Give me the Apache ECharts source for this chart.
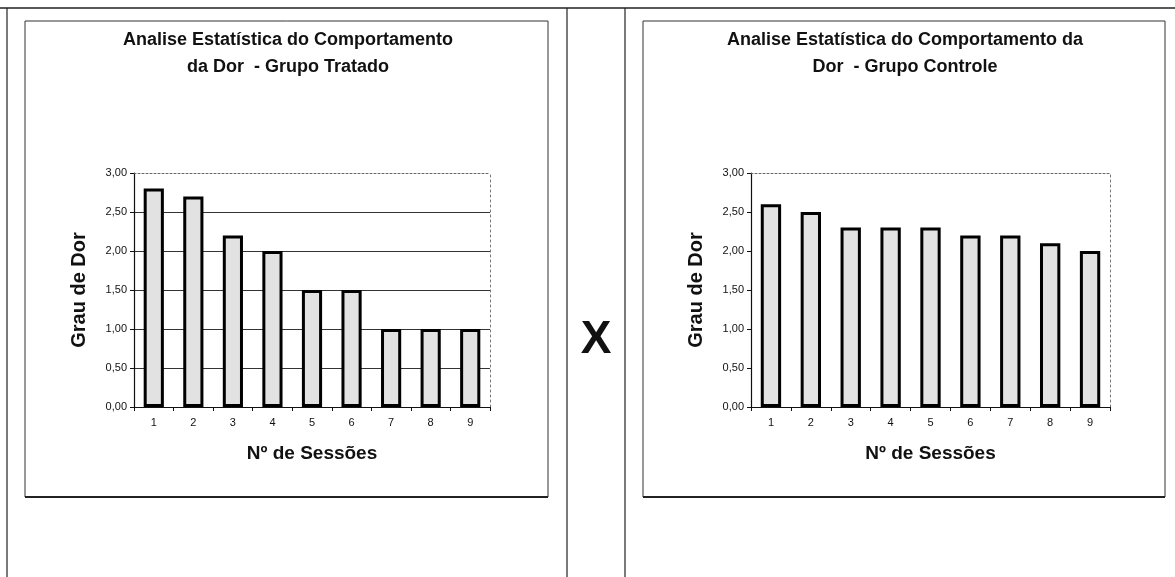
<!DOCTYPE html>
<html>
<head>
<meta charset="utf-8">
<script src="https://cdn.jsdelivr.net/npm/echarts@6/dist/echarts.min.js"></script>
<style>
html,body{margin:0;padding:0;background:#fff;}
#c{width:1175px;height:577px;}
</style>
</head>
<body>
<div id="c"></div>
<script>
const sessions = ['1','2','3','4','5','6','7','8','9'];
const tratado = [2.8, 2.7, 2.2, 2.0, 1.5, 1.5, 1.0, 1.0, 1.0];
const controle = [2.6, 2.5, 2.3, 2.3, 2.3, 2.2, 2.2, 2.1, 2.0];
const titleTratado = ['Analise Estatística do Comportamento', 'da Dor  - Grupo Tratado'];
const titleControle = ['Analise Estatística do Comportamento da', 'Dor  - Grupo Controle'];
const yName = 'Grau de Dor';
const xName = 'Nº de Sessões';

const FONT = '"Liberation Sans", Arial, sans-serif';
const fmt = v => v.toFixed(2).replace('.', ',');

const chart = echarts.init(document.getElementById('c'), null, {renderer: 'canvas'});

function grids() {
  return [
    {left: 134, top: 173, width: 356, height: 234},
    {left: 751, top: 173, width: 359, height: 234}
  ];
}

function catAxis(gi) {
  return {
    type: 'category', gridIndex: gi, data: sessions,
    name: xName, nameLocation: 'middle', nameGap: 37,
    nameTextStyle: {fontFamily: FONT, fontWeight: 'bold', fontSize: 19, color: '#111'},
    axisLine: {lineStyle: {color: '#111', width: 1.2}},
    axisTick: {show: true, length: 4, lineStyle: {color: '#111'}},
    axisLabel: {fontFamily: FONT, fontSize: 11, color: '#111', margin: 10}
  };
}
function topAxis(gi) {
  return {
    type: 'category', gridIndex: gi, position: 'top', data: sessions,
    axisLine: {show: true, onZero: false, lineStyle: {color: '#666', type: [2, 2], width: 1}},
    axisTick: {show: false}, axisLabel: {show: false}
  };
}
function valAxis(gi, grid) {
  return {
    type: 'value', gridIndex: gi, min: 0, max: 3, interval: 0.5,
    name: yName, nameLocation: 'middle', nameGap: 45,
    nameTextStyle: {fontFamily: FONT, fontWeight: 'bold', fontSize: 20, color: '#111'},
    axisLine: {show: true, lineStyle: {color: '#111', width: 1.2}},
    axisTick: {show: true, length: 4, lineStyle: {color: '#111'}},
    axisLabel: {fontFamily: FONT, fontSize: 11, color: '#111', margin: 7, formatter: fmt},
    splitLine: {show: grid, showMaxLine: false, showMinLine: false, lineStyle: {color: '#333', width: 1}}
  };
}
function rightAxis(gi) {
  return {
    type: 'value', gridIndex: gi, position: 'right', min: 0, max: 3, interval: 0.5,
    axisLine: {show: true, onZero: false, lineStyle: {color: '#777', type: [2, 3], width: 1}},
    axisTick: {show: false}, axisLabel: {show: false}, splitLine: {show: false}
  };
}

const barStyle = {color: '#e2e2e2', borderColor: '#000', borderWidth: 3};

const textFont = 'bold 18px ' + FONT;
function txt(x, y, s, font) {
  return {type: 'text', x: x, y: y, z: 10,
    style: {text: s, font: font || textFont, fill: '#111', textAlign: 'center', textVerticalAlign: 'middle'}};
}
function line(x1, y1, x2, y2, w) {
  return {type: 'line', shape: {x1, y1, x2, y2}, style: {stroke: '#222', lineWidth: w || 1}, silent: true};
}
function rect(x, y, w, h) {
  return {type: 'rect', shape: {x, y, width: w, height: h}, style: {fill: null, stroke: '#333', lineWidth: 1}, silent: true};
}

chart.setOption({
  animation: false,
  backgroundColor: '#fff',
  grid: grids(),
  xAxis: [catAxis(0), catAxis(1), topAxis(0), topAxis(1)],
  yAxis: [valAxis(0, true), valAxis(1, false), rightAxis(0), rightAxis(1)],
  series: [
    {type: 'bar', xAxisIndex: 0, yAxisIndex: 0, data: tratado, barWidth: '51%', itemStyle: barStyle},
    {type: 'bar', xAxisIndex: 1, yAxisIndex: 1, data: controle, barWidth: '51%', itemStyle: barStyle}
  ],
  graphic: [
    line(0, 8, 1175, 8, 1.5),
    line(7, 8, 7, 577, 1.2),
    line(567, 8, 567, 577, 1.2),
    line(625, 8, 625, 577, 1.2),
    rect(25, 21, 523, 476),
    line(25, 497, 548, 497, 2),
    rect(643, 21, 522, 476),
    line(643, 497, 1165, 497, 2),
    txt(288, 40, titleTratado[0]),
    txt(288, 67, titleTratado[1]),
    txt(905, 40, titleControle[0]),
    txt(905, 67, titleControle[1]),
    txt(596, 340, 'X', 'bold 46px ' + FONT)
  ]
});
</script>
</body>
</html>
